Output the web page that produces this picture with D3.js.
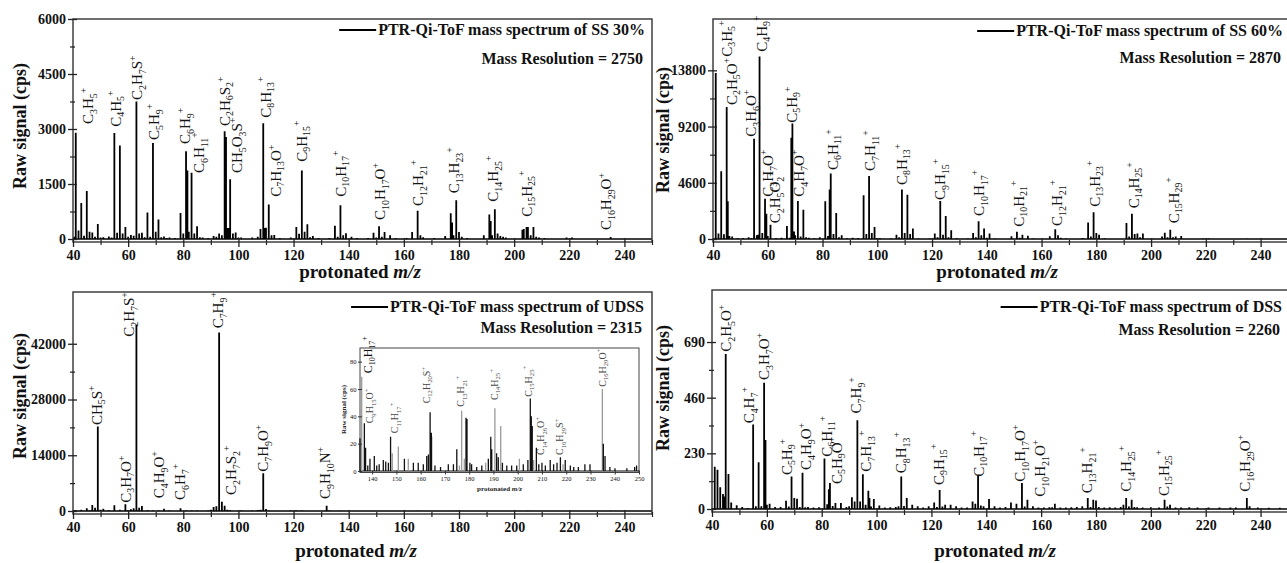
<!DOCTYPE html>
<html>
<head>
<meta charset="utf-8">
<script src="https://cdn.jsdelivr.net/npm/d3@7"></script>
<style>
  html, body { margin: 0; padding: 0; background: #fff; }
  svg { display: block; }
  svg text { font-family: "Liberation Serif", "Times New Roman", "DejaVu Serif", serif; }
</style>
</head>
<body>
<svg id="chart" width="1287" height="563"></svg>
<script>
// ---------- spectra: [protonated m/z, raw signal (cps)] ----------
const ss30Peaks = [
  [40.5,60],[41,2900],[42,230],[43,980],[44,90],[45,1310],[46,200],[47,180],[48,60],[49,410],[50,40],[51,50],
  [53,70],[54,40],[55,2890],[56,170],[57,2550],[58,150],[59,330],[60,60],[61,110],[62,90],[63,3750],[64,150],
  [65,170],[66,50],[67,720],[68,60],[69,2620],[70,200],[71,530],[72,50],[73,70],[74,30],[75,40],[77,30],
  [79,710],[80,150],[81,2390],[81.5,1870],[82,200],[83,1810],[84,150],[85,345],[86,50],[87,40],[89,30],
  [91,80],[92,60],[93,150],[94,100],[95,2940],[95.5,2780],[96,300],[96.5,300],[97,1630],[98,150],[99,180],
  [100,40],[101,40],[105,40],[107,60],[108,270],[109,3160],[109.6,300],[110,310],[111,940],[112,100],[113,110],
  [115,30],[119,40],[121,330],[122,140],[123,1870],[124,200],[125,400],[126,50],[127,80],[129,30],[133,30],
  [135,360],[136,60],[137,920],[138,100],[139,160],[141,60],[143,30],[147,30],[149,170],[150,40],[151,350],
  [152,60],[153,190],[155,100],[157,30],[161,30],[163,190],[165,770],[166,100],[167,50],[171,30],[175,80],
  [177,700],[177.5,450],[178,100],[179,1060],[180,190],[181,60],[183,30],[189,100],[191,670],[191.5,490],
  [192,100],[193,810],[194,150],[195,80],[196,60],[197,40],[203,250],[203.5,270],[204.5,330],[205,330],
  [206,100],[207,330],[208,60],[209,40],[211,30],[219,40],[221,40],[235,55]
];
const ss60Peaks = [
  [41,13580],[42,440],[43,5540],[44,380],[45,10800],[45.4,3080],[46,250],[47,200],[49,60],[51,80],[53,150],
  [54,80],[55,8210],[56,300],[56.5,350],[57,14940],[58,500],[59,3300],[59.5,2070],[60,250],[61,1170],[63,80],
  [65,100],[67,1060],[68,100],[68.6,8290],[69,9440],[69.6,620],[70,300],[71,3110],[72,200],[73,2400],[74,150],
  [75,100],[77,60],[79,150],[81,3080],[82,250],[82.6,4040],[83,5350],[84,400],[85,2130],[86,150],[87,300],
  [89,60],[91,100],[93,80],[95,3570],[96,400],[97,5150],[98,500],[99,980],[100,80],[101,60],[105,50],[107,350],
  [108,150],[109,4060],[110,500],[111,3630],[112,400],[113,850],[115,50],[119,50],[121,440],[122,150],[123,3110],
  [124,350],[125,1880],[126,150],[127,710],[129,60],[133,50],[135,490],[136,150],[137,1450],[138,300],[139,850],
  [140,100],[141,440],[143,50],[149,220],[151,600],[152,100],[153,350],[155,270],[157,40],[163,220],[165,790],
  [166,300],[167,100],[169,40],[175,80],[177,1340],[178,200],[179,2180],[180,500],[181,350],[183,60],[191,1310],
  [192,200],[193,2070],[194,400],[195,440],[196,150],[197,440],[204,200],[205,520],[206,150],[207,760],[208,150],
  [209,200],[211,250],[219,40],[221,40],[235,30]
];
const udssPeaks = [
  [40.5,200],[41,150],[43,300],[45,670],[46,200],[47,1500],[48,840],[49,21200],[50,300],[51,590],[53,200],
  [55,1430],[57,300],[59,1680],[60,200],[61,420],[62,670],[63,46760],[64,840],[65,1260],[67,200],[69,150],
  [71,150],[73,590],[75,100],[79,670],[81,150],[83,100],[85,100],[89,150],[90,300],[91,1000],[92,1170],
  [93,44830],[94,2350],[95,1340],[96,300],[97,200],[101,100],[105,150],[107,250],[108,300],[109,9470],[110,500],
  [111,150],[119,100],[121,100],[123,100],[132,1340],[133,150],[137,70],[165,50],[179,40],[205,50],[235,60]
];
const dssPeaks = [
  [41,175],[42,162],[43,90],[44,62],[44.5,52],[45,641],[46,145],[47,27],[49,15],[51,8],[53,4],[55,349],[56,11],
  [57,193],[58,11],[59,522],[59.5,285],[60,18],[61,22],[63,8],[65,8],[67,34],[68,10],[69,134],[70,45],[71,42],
  [72,8],[73,150],[74,7],[75,8],[77,6],[79,7],[81,209],[82,20],[82.6,82],[83,107],[84,12],[85,25],[87,25],[89,8],
  [90,11],[91,49],[92,31],[93,367],[94,31],[95,144],[96,18],[97,75],[97.4,45],[98,10],[99,41],[101,14],[103,6],
  [105,7],[107,8],[108,11],[109,134],[110,12],[111,45],[113,18],[115,11],[117,6],[119,11],[121,27],[122,8],
  [123,79],[124,10],[125,18],[127,18],[129,11],[131,6],[133,6],[135,31],[136,22],[137,137],[138,14],[139,11],
  [141,41],[143,11],[145,6],[147,8],[149,27],[151,22],[153,107],[154,10],[155,38],[157,11],[159,6],[161,6],
  [163,7],[164,7],[165,22],[167,6],[169,6],[171,7],[173,8],[175,11],[177,45],[178,8],[179,38],[180,35],[181,8],
  [183,6],[185,7],[187,6],[189,8],[190,18],[191,45],[192,10],[193,38],[194,8],[195,7],[197,6],[200,7],[203,6],
  [205,38],[206,10],[207,18],[209,6],[211,6],[214,7],[217,6],[221,6],[225,6],[229,6],[231,6],[235,45],[236,11],
  [239,6],[243,5],[247,5]
];
// UDSS zoom (135-250), two overlaid traces
const udssZoomDark = [
  [135,24],[136.8,35],[137.3,17],[138.2,4],[139.1,9],[140.9,11],[141.9,4],[142.9,5],[144.6,8],[145.6,7],
  [146.7,6],[147.6,25],[153.3,9],[157,6],[159,6],[161.1,5],[162.5,11],[163.2,12],[163.9,43],[164.4,28],
  [165.9,4],[168.2,3],[171.4,5],[173.5,5],[174.9,16],[178.7,39],[179.1,38],[180.3,6],[181,5],[183.1,3],
  [185.2,4],[187.9,9],[188.9,25],[189.3,16],[191.3,13],[192,10],[193.7,6],[195.5,4],[197.5,4],[199.6,4],
  [202.3,5],[204.2,8],[205.2,53],[205.6,40],[206,33],[207.7,17],[208.7,5],[210,6],[211.4,4],[213.4,8],
  [214.8,5],[216.2,6],[217.6,10],[219.6,8],[221.7,4],[223.1,3],[225,3],[227.7,5],[229.8,5],[235.3,20],
  [236,11],[238,3],[240.1,2],[245,2],[248.2,3],[249,4]
];
const udssZoomLight = [
  [135.7,69],[148.3,13],[150.8,18],[154.9,9],[164.6,25],[176,4],[176.9,44],[178,9],[186.8,6],[190.6,46],
  [193,33],[200.7,9],[206.6,8],[218.7,5],[234.9,60]
];

// ---------- peak assignments: [formula, m/z, signal] at the label's start ----------
const ss30Labels = [
  ["C3H5+",45.5,3136],["C4H5+",55.5,3062],["C2H7S+",63.3,3790],["C5H9+",69.5,2700],["C6H9+",80.6,2591],
  ["C6H11+",85.7,1800],["C2H6S2+",95.1,3082],["CH5O3S+",99.6,1800],["C8H13+",109.9,3308],["C7H13O+",113.6,1154],
  ["C9H15+",123,2108],["C10H17+",137.1,1154],["C10H17O+",151.4,518],["C12H21+",165.2,900],["C13H23+",178.2,1246],
  ["C14H25+",192.4,1017],["C15H25+",204.6,608],["C16H29O+",233.3,245]
];
const ss60Labels = [
  ["C3H5+",45.0,14916],["C2H5O+",46.8,10964],["C3H6O+",53.9,8370],["C4H9+",57.8,15325],["C3H7O+",60.2,3461],
  ["C2H5O2+",62.7,1285],["C5H9+",68.8,9516],["C4H7O+",71.4,3461],["C6H11+",83.8,5645],["C7H11+",97.4,5564],
  ["C8H13+",109,4418],["C9H15+",123,3191],["C10H17+",137.3,1882],["C10H21+",151.6,1006],["C12H21+",165.7,1064],
  ["C13H23+",179.4,2643],["C14H25+",193.7,2512],["C15H29+",208.3,1285]
];
const udssLabels = [
  ["CH5S+",48.6,21595],["C3H7O+",59.2,2084],["C2H7S+",60.4,43767],["C4H9O+",71.3,3189],["C6H7+",78.8,2762],
  ["C7H9+",92.7,45876],["C2H7S2+",97.3,4018],["C7H9O+",109,9868],["C9H10N+",131.4,3013]
];
const dssLabels = [
  ["C2H5O+",45.1,650],["C4H7+",53.6,354],["C3H7O+",59.1,533],["C5H9+",67.3,140],["C4H9O+",74.3,161],
  ["C6H11+",81.9,216],["C5H9O+",85.5,103],["C7H9+",92.6,395],["C7H13+",96.2,154],["C8H13+",109,148],
  ["C9H15+",122.6,99],["C10H17+",137.2,133],["C10H17O+",152.4,113],["C10H21O+",159.7,51],["C13H21+",176.8,65],
  ["C14H25+",191,71],["C15H25+",204.7,54],["C16H29O+",234.5,71]
];
const udssZoomLabels = [
  ["C10H17+",138.4,71.5],["C9H15O+",139.1,34.9],["C11H17+",149.4,27.6],["C12H20S+",162.5,49.5],
  ["C13H21+",176.6,47],["C14H25+",190.4,52],["C15H25+",204.4,54.4],["C14H26O+",209.6,11.7],
  ["C16H29S+",217.4,11.7],["C16H29O+",234.9,61.7]
];

// ---------- axis ticks and legend text ----------
const mzTicks = [40, 60, 80, 100, 120, 140, 160, 180, 200, 220, 240];
const mzMinor = [50, 70, 90, 110, 130, 150, 170, 190, 210, 230, 250];
const ss30Ticks = [0, 1500, 3000, 4500, 6000];
const ss60Ticks = [0, 4600, 9200, 13800];
const udssTicks = [0, 14000, 28000, 42000];
const dssTicks = [0, 230, 460, 690];
const zoomMzTicks = [140, 150, 160, 170, 180, 190, 200, 210, 220, 230, 240, 250];
const zoomSignalTicks = [0, 20, 40, 60, 80];
const sampleNames = ["SS 30%", "SS 60%", "UDSS", "DSS"];
const resolutions = [2750, 2870, 2315, 2260];

// ---------- drawing ----------
const INK = "#111";
const svg = d3.select("#chart");

function tokens(s) {
  const out = [];
  for (const ch of s) {
    const kind = /[0-9]/.test(ch) ? "sub" : (ch === "+" ? "sup" : "base");
    if (out.length && out[out.length - 1].kind === kind) out[out.length - 1].t += ch;
    else out.push({ t: ch, kind });
  }
  return out;
}

// vertical chemical formula, reading bottom to top, centred on sx
function formula(g, s, sx, sy, fs, color) {
  const t = g.append("text")
    .attr("transform", `translate(${sx},${sy}) rotate(-90)`)
    .attr("y", fs * 0.33)
    .attr("font-size", fs)
    .attr("fill", color);
  let shift = 0;
  for (const tk of tokens(s)) {
    const target = tk.kind === "sub" ? fs * 0.24 : tk.kind === "sup" ? -fs * 0.42 : 0;
    t.append("tspan")
      .attr("dy", target - shift)
      .attr("font-size", tk.kind === "base" ? fs : fs * 0.66)
      .text(tk.t);
    shift = target;
  }
}

function spikes(g, x, y, peaks, color, width) {
  g.append("path")
    .attr("d", peaks.map(([m, v]) => `M${x(m)},${y(0)}V${y(v)}`).join(""))
    .attr("stroke", color).attr("stroke-width", width).attr("fill", "none");
}

function styleAxis(a, size, inward, color, fs, weight) {
  a.attr("font-family", null);
  a.select(".domain").remove();
  a.selectAll(".tick line").attr(inward[0], inward[1]).attr("stroke", color).attr("stroke-width", size);
  a.selectAll(".tick text").attr("font-size", fs).attr("font-weight", weight).attr("fill", INK);
}

function panel(cfg) {
  const g = svg.append("g");
  const x = d3.scaleLinear().domain([40, 250]).range([cfg.left, cfg.right]);
  const y = d3.scaleLinear().domain([0, cfg.ymax]).range([cfg.zero, cfg.top]);
  const bottom = cfg.zero + 3;

  // spectrum
  g.append("line").attr("x1", cfg.left).attr("x2", cfg.right)
    .attr("y1", y(0)).attr("y2", y(0)).attr("stroke", "#000").attr("stroke-width", 1.6);
  spikes(g, x, y, cfg.peaks, "#000", 1.8);

  // frame
  g.append("rect").attr("x", cfg.left).attr("y", cfg.top)
    .attr("width", cfg.right - cfg.left).attr("height", bottom - cfg.top)
    .attr("fill", "none").attr("stroke", "#333").attr("stroke-width", 1.4);

  // x axis
  const xa = g.append("g").attr("transform", `translate(0,${bottom})`)
    .call(d3.axisBottom(x).tickValues(mzTicks).tickSize(5).tickPadding(3).tickFormat(d3.format("d")));
  const xm = g.append("g").attr("transform", `translate(0,${bottom})`)
    .call(d3.axisBottom(x).tickValues(mzMinor).tickSize(3).tickFormat(""));
  styleAxis(xa, 1.3, ["y1", -4], "#222", 14, "bold");
  styleAxis(xm, 1.2, ["y1", -2], "#222", 14, "bold");

  // y axis
  const minorY = cfg.yticks.slice(1).map((v, i) => (v + cfg.yticks[i]) / 2);
  const ya = g.append("g").attr("transform", `translate(${cfg.left},0)`)
    .call(d3.axisLeft(y).tickValues(cfg.yticks).tickSize(5).tickPadding(2).tickFormat(d3.format("d")));
  const ym = g.append("g").attr("transform", `translate(${cfg.left},0)`)
    .call(d3.axisLeft(y).tickValues(minorY).tickSize(3).tickFormat(""));
  styleAxis(ya, 1.3, ["x1", 4], "#222", 14, "bold");
  styleAxis(ym, 1.2, ["x1", 2], "#222", 14, "bold");

  // axis titles
  g.append("text")
    .attr("transform", `translate(${cfg.ylab[0]},${cfg.ylab[1]}) rotate(-90)`)
    .attr("text-anchor", "middle").attr("dy", "0.35em")
    .attr("font-size", 18).attr("font-weight", "bold").attr("fill", INK)
    .text("Raw signal (cps)");
  const xt = g.append("text").attr("x", cfg.xlab[0]).attr("y", cfg.xlab[1])
    .attr("text-anchor", "middle").attr("font-size", 19).attr("font-weight", "bold").attr("fill", INK);
  xt.append("tspan").text("protonated ");
  xt.append("tspan").attr("font-style", "italic").text("m/z");

  // legend
  const lx = cfg.right - cfg.legendInset;
  const lt = g.append("text").attr("x", lx).attr("y", cfg.top + cfg.legendY[0])
    .attr("text-anchor", "end").attr("font-size", 16).attr("font-weight", "bold").attr("fill", INK)
    .text("PTR-Qi-ToF mass spectrum of " + cfg.name);
  const w = lt.node().getComputedTextLength();
  g.append("line").attr("x1", lx - w - 39).attr("x2", lx - w - 2)
    .attr("y1", cfg.top + cfg.legendY[0] - 5).attr("y2", cfg.top + cfg.legendY[0] - 5)
    .attr("stroke", "#000").attr("stroke-width", 2);
  g.append("text").attr("x", lx - 2).attr("y", cfg.top + cfg.legendY[1])
    .attr("text-anchor", "end").attr("font-size", 16).attr("font-weight", "bold").attr("fill", INK)
    .text("Mass Resolution = " + cfg.res);

  // assignments
  cfg.labels.forEach(([s, m, v]) => formula(g, s, x(m), y(v), 15, "#151515"));
  return g;
}

panel({ left: 73, right: 652, top: 19, zero: 239, ymax: 6000, yticks: ss30Ticks,
  peaks: ss30Peaks, labels: ss30Labels, name: sampleNames[0], res: resolutions[0],
  ylab: [20, 126], xlab: [360, 278], legendY: [16, 45], legendInset: 7 });
panel({ left: 713, right: 1288, top: 19, zero: 239, ymax: 18000, yticks: ss60Ticks,
  peaks: ss60Peaks, labels: ss60Labels, name: sampleNames[1], res: resolutions[1],
  ylab: [663, 130], xlab: [997, 278], legendY: [17, 44], legendInset: 5 });
const udss = panel({ left: 73, right: 652, top: 292, zero: 511, ymax: 55000, yticks: udssTicks,
  peaks: udssPeaks, labels: udssLabels, name: sampleNames[2], res: resolutions[2],
  ylab: [20, 396], xlab: [356, 557], legendY: [20, 41], legendInset: 8 });
panel({ left: 712, right: 1288, top: 290, zero: 509, ymax: 905, yticks: dssTicks,
  peaks: dssPeaks, labels: dssLabels, name: sampleNames[3], res: resolutions[3],
  ylab: [663, 388], xlab: [995, 557], legendY: [22, 45], legendInset: 6 });

// ---------- UDSS close-up of the high-mass region ----------
(function () {
  const g = udss.append("g");
  const L = 360, R = 639, T = 348, Z = 471, B = 472.5;
  const x = d3.scaleLinear().domain([135, 250]).range([L, R]);
  const y = d3.scaleLinear().domain([0, 90]).range([Z, T]);
  g.append("rect").attr("x", L).attr("y", T).attr("width", R - L).attr("height", B - T)
    .attr("fill", "#fff").attr("stroke", "#444").attr("stroke-width", 1);
  g.append("line").attr("x1", L).attr("x2", R).attr("y1", y(0)).attr("y2", y(0))
    .attr("stroke", "#000").attr("stroke-width", 1);
  spikes(g, x, y, udssZoomLight, "#9a9a9a", 1.3);
  spikes(g, x, y, udssZoomDark, "#111", 1.3);

  const xa = g.append("g").attr("transform", `translate(0,${B})`)
    .call(d3.axisBottom(x).tickValues(zoomMzTicks).tickSize(2).tickPadding(1.5).tickFormat(d3.format("d")));
  styleAxis(xa, 1, ["y1", -2], "#333", 6.5, "normal");
  const ya = g.append("g").attr("transform", `translate(${L},0)`)
    .call(d3.axisLeft(y).tickValues(zoomSignalTicks).tickSize(2).tickPadding(1.5).tickFormat(d3.format("d")));
  styleAxis(ya, 1, ["x1", 2], "#333", 6.5, "normal");

  const xt = g.append("text").attr("x", (L + R) / 2).attr("y", 491)
    .attr("text-anchor", "middle").attr("font-size", 7).attr("font-weight", "bold").attr("fill", "#222");
  xt.append("tspan").text("protonated ");
  xt.append("tspan").attr("font-style", "italic").text("m/z");
  g.append("text").attr("transform", `translate(344,${(T + Z) / 2}) rotate(-90)`)
    .attr("text-anchor", "middle").attr("dy", "0.35em")
    .attr("font-size", 7).attr("font-weight", "bold").attr("fill", "#222")
    .text("Raw signal (cps)");

  udssZoomLabels.forEach(([s, m, v], i) =>
    formula(g, s, x(m), y(v), i === 0 ? 12 : 10, i === 0 ? "#111" : "#444"));
})();
</script>
</body>
</html>
